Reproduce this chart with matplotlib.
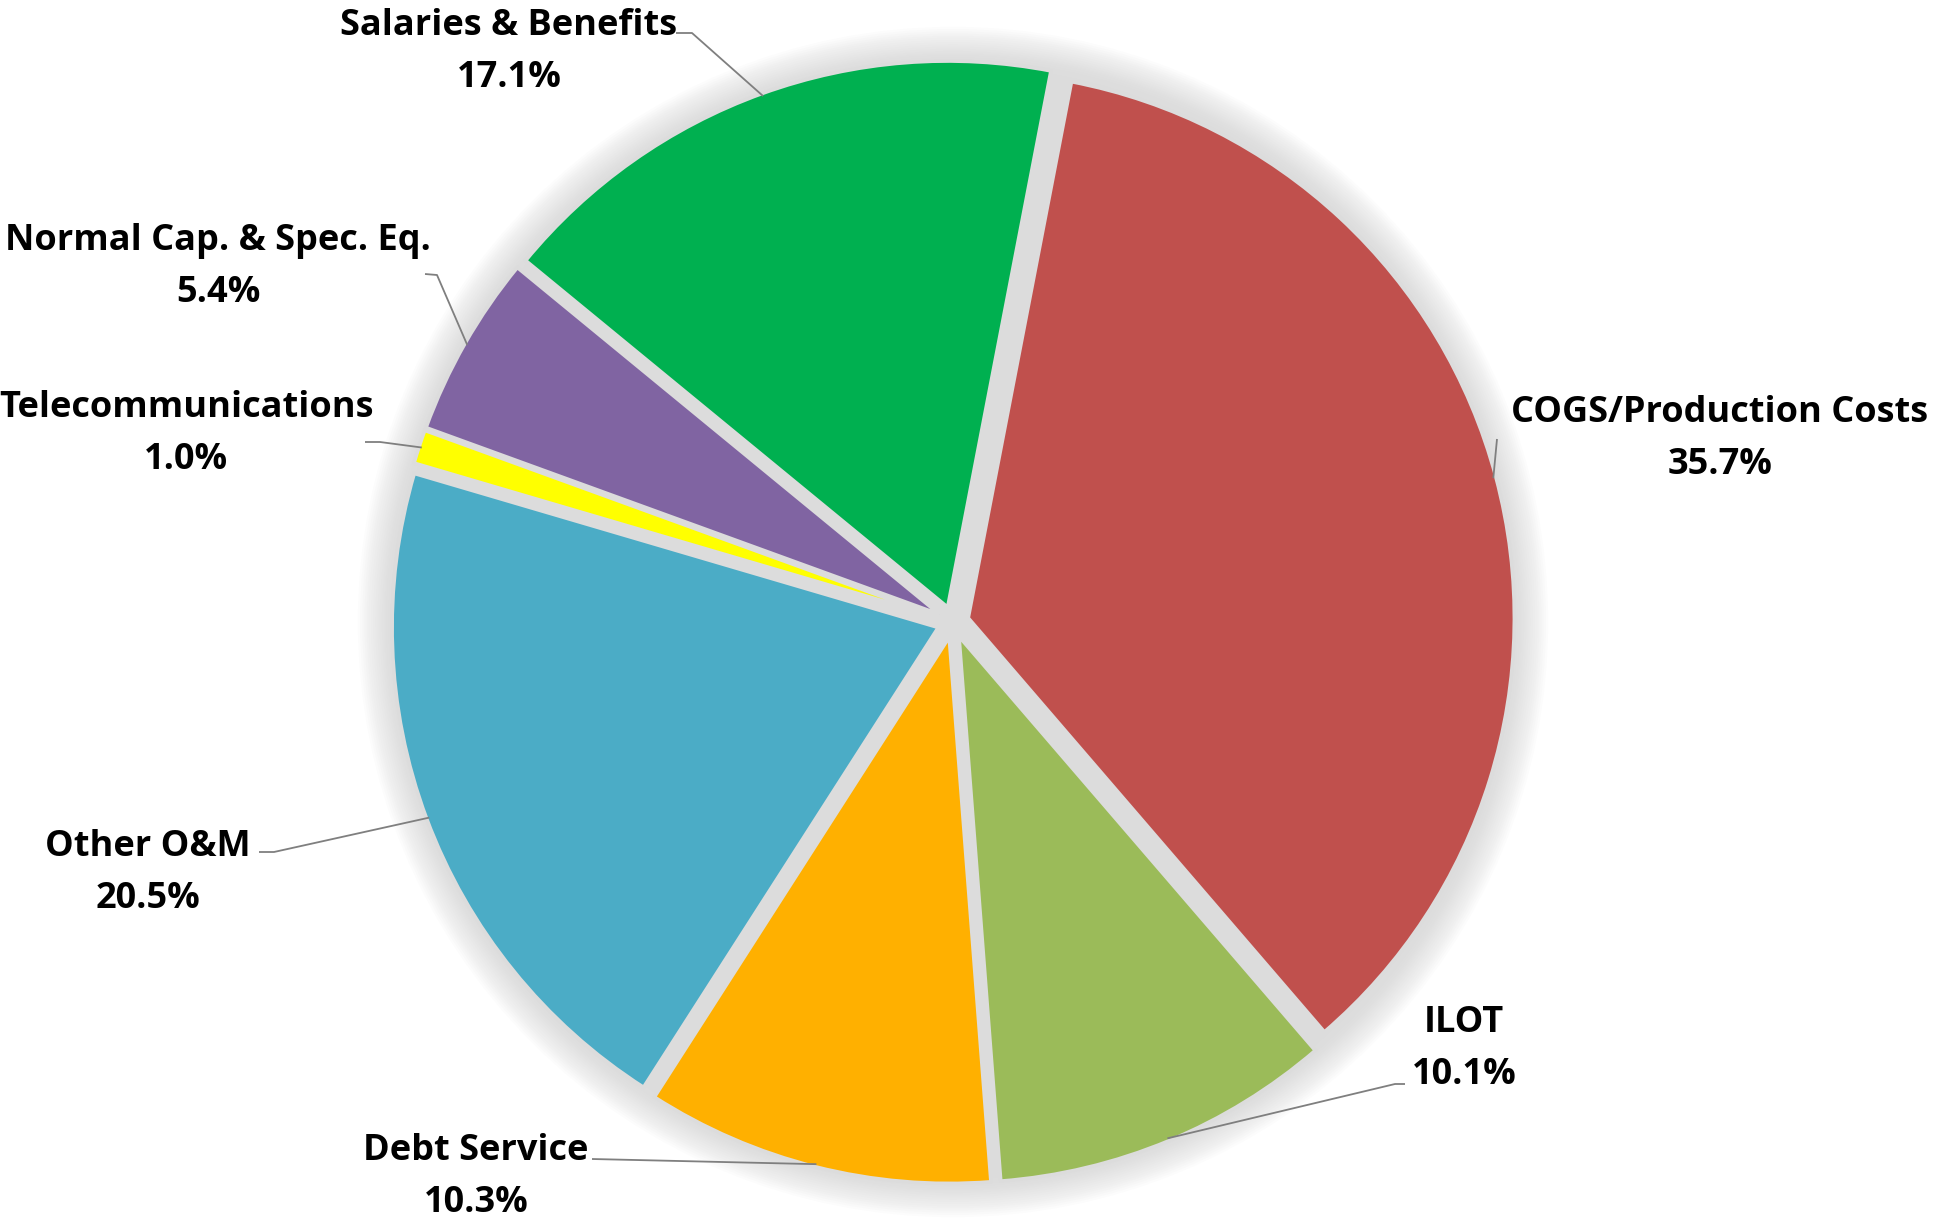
import numpy as np
import matplotlib
matplotlib.use("Agg")
import matplotlib.pyplot as plt
from matplotlib.patches import Circle

# ---- data ----
categories = ["COGS/Production Costs", "ILOT", "Debt Service", "Other O&M",
              "Telecommunications", "Normal Cap. & Spec. Eq.", "Salaries & Benefits"]
shares = [35.7, 10.1, 10.3, 20.5, 1.0, 5.4, 17.1]
colors = ["#C0504D", "#9BBB59", "#FFB000", "#4BACC6", "#FFFF00", "#8064A2", "#00B050"]

# label block centres and leader-line start points, in image pixels
label_pos = [(1720, 439), (1464, 1049), (476, 1177), (148, 873),
             (186, 434), (218, 267), (509, 52)]
leader_start = [[(1497, 439)], [(1405, 1084), (1395, 1084)], [(592, 1159)],
                [(259, 852), (274, 852)], [(365, 442), (380, 442)],
                [(425, 274), (437, 275)], [(676, 33), (692, 33)]]

W, H = 1937, 1220
CX, CY, R = 953, 622, 546   # pie centre / radius in pixels

plt.rcParams['font.family'] = ['Open Sans', 'DejaVu Sans']

fig = plt.figure(figsize=(W / 100, H / 100), dpi=100)
ax = fig.add_axes([0, 0, 1, 1])


def px(p):
    return ((p[0] - CX) / R, (CY - p[1]) / R)


# soft grey shadow behind the pie
n = 16
for i in range(n):
    r = 1.09 - i * 0.004
    ax.add_patch(Circle((0, 0), r, facecolor='#d0d0d0', edgecolor='none',
                        alpha=0.06, zorder=1))
ax.add_patch(Circle((0, 0), 1.02, facecolor='#dcdcdc', edgecolor='none', zorder=1))

start = 90 - 10.9
wedges, _ = ax.pie(shares, colors=colors, startangle=start, counterclock=False,
                   explode=[0.029] * len(shares), radius=1.0,
                   wedgeprops=dict(edgecolor='#dcdcdc', linewidth=2.5),
                   frame=True)
for w in wedges:
    w.set_zorder(3)
ax.set_xlim(-CX / R, (W - CX) / R)
ax.set_ylim(-(H - CY) / R, CY / R)
ax.set_aspect('equal')
ax.axis('off')

for w, name, val, lp, ls in zip(wedges, categories, shares, label_pos, leader_start):
    thm = np.deg2rad(0.5 * (w.theta1 + w.theta2))
    cx, cy = w.center
    ex = cx + 0.995 * w.r * np.cos(thm)
    ey = cy + 0.995 * w.r * np.sin(thm)
    pts = [px(p) for p in ls] + [(ex, ey)]
    xs, ys = zip(*pts)
    ax.plot(xs, ys, color='#7f7f7f', lw=1.3, zorder=4, solid_capstyle='butt')
    tx, ty = px(lp)
    ax.text(tx, ty, f"{name}\n{val:.1f}%", ha='center', va='center',
            fontsize=26, fontweight='bold', color='black',
            linespacing=1.6, multialignment='center', zorder=5)

fig.savefig("out.png", dpi=100, facecolor='white')
